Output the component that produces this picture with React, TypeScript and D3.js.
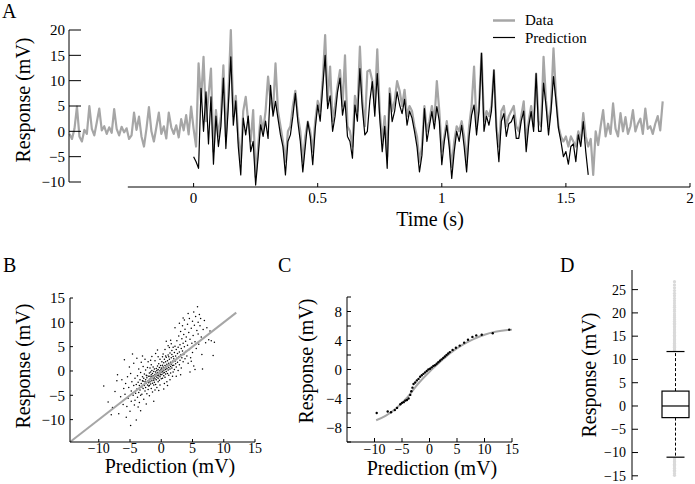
import React from "react";
import * as d3 from "d3";

// ---------- Panel A data (10 ms samples) ----------
const timeStart = -0.5;
const sampleStep = 0.01;
const responseData = [
  -0.5, -1.5, 0.5, 4.9, -1.0, -2.0, 0.3, -0.5, 5.0, 0.5,
  -0.8, 1.8, 4.5, 0.2, 1.0, -0.5, 0.8, -0.3, 4.4, 0.5,
  -0.8, 0.9, -0.2, 0.6, -1.5, -0.8, 3.7, 0.3, 2.9, -1.0,
  -3.0, 0.5, 4.8, 0.0, -2.0, 0.8, 3.7, -0.5, 1.0, -1.4,
  3.7, 0.8, -0.5, 1.2, -1.2, 2.4, 0.2, 3.2, -0.6, 4.9,
  0.5, -3, 13.4, 6, 14.7, 2, 7, 12.4, -4, 4.2,
  -1, 3, 13, -1, 7, 20, 3, 7, -1, -6,
  4, 6.8, 2, -2, 4.2, -9, -3, 3, 0, 4,
  10.8, 6, 4, 13.4, 4, 1, -2, -6, 0, 1,
  5, 8, 3, 0, -6, -1, 1.9, 0, -4, 2,
  6, 4, 10, 19, 6, 12.8, 2, 5, 9, 12.1,
  5, 15, 1, 0, -3, 7, 4, 16.7, 6, 1,
  11.8, 12.1, 10, 5, 16.2, 4, -2, 3, -5, 8.5,
  4, 6, 9.9, 8, 5, 8.2, 3, 5, 4, 1,
  -1, -6, -3, 5, 0, 2, 5, 2, 9.9, 4,
  -4, -1, 2, -2, -7, -2, 1, 0, 2, -1,
  -6, 1, 5, 12.8, 1, 5, 15.4, 2, 4, 3,
  5, 12.1, 1, -3, 4, 5, 1, 3, 4, 5,
  1, 0, 3, 5.9, -2, 2, 5, 1, 11.4, 2,
  1, 14.7, 6, 1, 5, 16.4, 7, 1, -1, -2,
  -1, -3, -1, -2, -3, 0, -2, 3.6, -1, -3,
  -1.5, -8.6, 0, -2.7, 1, 4.2, -1, 1.5, -0.5, 5.5,
  0.5, -1, 3.6, 0, 2.8, -0.5, 1, 4.2, 0, 1.5,
  2.5, -0.5, 4.5, 0.5, 1, -0.5, 1.5, 3, 0.2, 5.9,
];
const predictionStart = 0;
const predictionData = [
  -5, -6, -7.3, 8.5, 0, 7.8, -2.5, 6.8, -6.5, 3,
  -3, 1, 10.5, -3.4, 5, 14.7, 1.2, 6, -3, -8.6,
  2.6, -0.7, 3, -4, -2, -10.6, -5, 1.3, -1, 2,
  -1.4, 9.1, 3, 5.9, 2.5, -0.7, -3, -8.6, -2, -0.7,
  3, 7.5, 1.9, -2, -8, -3, 1.9, -1, -6.6, 0.5,
  5.2, 2, 8.5, 15, 4.5, 7, 0, 3, 7.8, 10.5,
  3.2, 6, -1, -2, -5.3, 5.2, 2, 12.4, 4.5, -0.7,
  0, 6, 9.8, 3, 11.4, 2.6, -4, 1, -7.3, 7.5,
  1.9, 4, 7.8, 5.2, 3.5, 6.3, 1.2, 4, 2.6, 0,
  -3, -8, -4.7, 4.5, -2, 1, 3.9, 0.5, 4.9, 2,
  -6.6, -2, 1.2, -3, -9.3, -4, 0, -2, 1.2, -3,
  -8, -1, 3.2, 5.2, -0.7, 4, 15.4, 0, 3, 1.2,
  4, 12.1, 0, -6, 2, 3.5, -1, 1.5, 1.9, 3.2,
  -1.4, -1.4, 2, 4, -4, 1, 3.9, 0, 11.4, 0,
  0, 9.5, 5, -0.7, 4, 10.8, 6, 0.6, -2, -5,
  -4, -6.5, -3, -2.5, -6, -0.7, -3, 1.9, -4, -8.6,
];
const timeTicks = [0, 0.5, 1, 1.5, 2];
const responseTicksA = [-10, -5, 0, 5, 10, 15, 20];
const legendLabels = ["Data", "Prediction"];

// ---------- Panel B data ----------
const scatterPoints: [number, number][] = [
  [-9.2, -3.1], [-8.5, -6.4], [-7.8, -7.5], [-7.4, -4.2], [-7.1, -2.0], [-6.8, -8.8], [-6.5, -5.3], [-6.3, -1.8], [-6.1, -6.9], [-6.0, -3.6], [-8.0, -9.0], [-7.0, -0.8],
  [-5.8, -4.8], [-5.7, -2.6], [-5.5, -7.3], [-5.4, -1.2], [-5.3, -5.6], [-5.2, -3.4], [-5.0, -8.3], [-4.9, -0.5], [-4.8, -4.1], [-4.8, -6.2], [-4.7, -2.2], [-4.6, 3.5], [-4.5, -5.0], [-4.4, -3.0], [-4.3, -7.0], [-4.2, -1.5], [-4.1, -4.6], [-4.0, -10.1], [-4.0, -2.8], [-5.9, 2.3], [-5.1, 0.8], [-4.4, 1.6], [-4.9, -11.2], [-5.6, -9.5], [-4.2, -6.0],
  [-3.9, -3.7], [-3.8, -1.0], [-3.8, -5.4], [-3.7, -2.3], [-3.6, 0.4], [-3.6, -4.4], [-3.5, -3.0], [-3.5, -6.5], [-3.4, -1.8], [-3.4, -3.9], [-3.3, -0.3], [-3.3, -5.0], [-3.2, -2.6], [-3.2, 1.8], [-3.1, -3.3], [-3.1, -4.8], [-3.0, -1.2], [-3.0, -2.0], [-2.9, -3.6], [-2.9, 0.9], [-2.8, -2.9], [-2.8, -5.8], [-2.8, -1.5], [-2.7, -0.6], [-2.7, -3.0], [-2.6, -2.2], [-2.6, -4.1], [-2.5, 0.2], [-2.5, -1.8], [-2.5, -3.4], [-2.4, -2.5], [-2.4, -0.9], [-2.3, -4.7], [-2.3, -1.4], [-2.2, -2.9], [-2.2, 0.7], [-2.1, -2.0], [-2.1, -3.8], [-2.0, -1.1], [-2.0, -2.4], [-3.9, 2.6], [-3.0, 3.1], [-2.6, 2.4], [-3.7, -7.4], [-2.4, -6.8], [-2.1, 1.9], [-3.3, -8.2], [-2.9, -2.1], [-2.3, -1.0], [-2.0, -3.1],
  [-1.9, -1.7], [-1.9, -0.4], [-1.9, -3.0], [-1.8, -2.2], [-1.8, 0.6], [-1.8, -1.1], [-1.7, -2.7], [-1.7, -0.2], [-1.7, -1.5], [-1.6, -3.6], [-1.6, -0.8], [-1.6, 1.3], [-1.5, -2.0], [-1.5, -1.2], [-1.5, 0.1], [-1.4, -2.5], [-1.4, -0.5], [-1.4, -4.3], [-1.3, -1.6], [-1.3, 0.8], [-1.3, -1.0], [-1.2, -2.9], [-1.2, -0.1], [-1.2, -1.9], [-1.1, -1.3], [-1.1, 0.4], [-1.1, -2.3], [-1.0, -0.7], [-1.0, -1.6], [-1.0, 2.1], [-0.9, -0.2], [-0.9, -2.8], [-0.9, -1.1], [-0.8, 0.5], [-0.8, -0.6], [-0.8, -1.8], [-0.7, -1.3], [-0.7, 0.1], [-0.7, -3.4], [-0.6, -0.9], [-0.6, 1.0], [-0.6, -0.3], [-0.5, -1.5], [-0.5, 0.3], [-0.5, -2.2], [-0.4, -0.6], [-0.4, 1.5], [-0.4, -1.0], [-0.3, 0.0], [-0.3, -1.9], [-0.3, 0.7], [-0.2, -0.4], [-0.2, -1.2], [-0.2, 2.4], [-0.1, 0.2], [-0.1, -0.8], [-0.1, 1.1], [0.0, -0.2], [0.0, -1.6], [0.0, 0.6], [-1.5, 3.0], [-0.9, 3.6], [-1.9, -5.1], [-0.4, -4.0], [-1.2, -6.2], [-0.6, 4.3], [-1.7, 2.2], [-0.2, -2.9], [-1.0, -3.9], [-0.5, 2.9],
  [0.1, 0.4], [0.1, -0.7], [0.2, 1.2], [0.2, -0.1], [0.2, -1.5], [0.3, 0.8], [0.3, -0.4], [0.4, 1.7], [0.4, 0.1], [0.4, -1.0], [0.5, 0.6], [0.5, 2.4], [0.5, -0.3], [0.6, 1.1], [0.6, -1.3], [0.7, 0.3], [0.7, 1.9], [0.7, -0.6], [0.8, 0.9], [0.8, 2.8], [0.8, -0.1], [0.9, 1.4], [0.9, 0.5], [1.0, -0.5], [1.0, 2.1], [1.0, 1.0], [1.1, 0.2], [1.1, 3.3], [1.2, 1.6], [1.2, 0.7], [1.2, -0.9], [1.3, 2.4], [1.3, 1.2], [1.4, 0.4], [1.4, 3.7], [1.5, 1.8], [1.5, 0.9], [1.5, -0.4], [1.6, 2.7], [1.6, 1.4], [1.7, 0.6], [1.7, 4.2], [1.8, 2.0], [1.8, 1.1], [1.9, 3.0], [1.9, -0.2], [0.3, 3.5], [0.6, 4.4], [1.1, 5.2], [0.9, -2.2], [1.4, -1.8], [0.2, 2.9], [1.6, 5.6], [1.8, -1.1], [0.5, -2.6], [1.3, 4.8], [0.8, 6.1], [1.9, 4.9], [1.0, -3.0], [0.4, -3.7], [1.7, 3.4], [1.2, 2.9], [0.7, 3.1], [1.5, 6.3], [0.1, 1.9],
  [2.0, 2.5], [2.0, 1.2], [2.1, 3.8], [2.1, 0.3], [2.2, 2.0], [2.2, 5.1], [2.3, 1.5], [2.3, 3.1], [2.4, 4.4], [2.4, 0.8], [2.5, 2.6], [2.5, 6.2], [2.6, 3.6], [2.6, 1.8], [2.7, 4.9], [2.7, 0.1], [2.8, 2.9], [2.8, 7.2], [2.9, 3.9], [2.9, 1.3], [3.0, 5.4], [3.0, 2.2], [3.1, 8.1], [3.1, 3.3], [3.2, 4.6], [3.2, 0.6], [3.3, 6.6], [3.3, 2.7], [3.4, 9.3], [3.4, 4.1], [3.5, 5.7], [3.5, 1.9], [3.6, 7.5], [3.6, 3.4], [3.7, 10.5], [3.7, 5.0], [3.8, 2.5], [3.8, 8.6], [3.9, 6.1], [3.9, 4.0], [2.4, -1.1], [3.1, -0.8], [2.2, 8.9], [3.5, 10.9], [2.9, 9.8],
  [4.0, 7.0], [4.1, 3.1], [4.2, 9.6], [4.2, 5.3], [4.3, 1.6], [4.4, 7.9], [4.5, 4.4], [4.5, 10.8], [4.6, 6.5], [4.7, 2.7], [4.8, 8.8], [4.9, 5.7], [5.0, 10.2], [5.0, 3.8], [5.1, 7.3], [5.2, 1.0], [5.3, 9.4], [5.4, 6.0], [5.5, 11.2], [5.6, 4.6], [5.7, 8.3], [5.8, 13.2], [5.9, 10.0], [6.0, 5.5], [4.6, -0.2], [5.4, 0.3], [4.3, 11.8], [5.2, 12.1], [4.8, 2.0], [5.9, 7.6],
  [6.2, 9.3], [6.3, 10.8], [6.4, 7.0], [6.5, 3.4], [6.7, 8.5], [6.9, 10.4], [7.1, 5.8], [7.3, 8.9], [7.6, 6.4], [8.0, 6.2], [8.3, 3.2], [8.5, 5.9], [6.6, 0.4], [7.8, 8.2], [6.1, 11.6],
];
const identityRange = [-14.6, 12];
const ticksB = [-10, -5, 0, 5, 10, 15];

// ---------- Panel C data ----------
const nonlinCurve: [number, number][] = [
  [-9.7, -7.0], [-8, -6.4], [-6, -5.3], [-4, -3.8], [-2, -1.9], [0, -0.3], [2, 1.1], [4, 2.4], [6, 3.4], [8, 4.2], [10, 4.8], [12, 5.2], [15, 5.5],
];
const binnedPoints: [number, number][] = [
  [-9.6, -6.0], [-7.6, -5.8], [-7.0, -5.9], [-6.3, -5.6], [-5.9, -5.3], [-5.3, -4.8], [-5.0, -4.6], [-4.7, -4.5], [-4.4, -4.3], [-4.1, -4.2], [-3.8, -4.0], [-3.5, -3.5], [-3.3, -3.0], [-3.1, -2.5], [-2.9, -2.0], [-2.6, -1.8], [-2.3, -1.5], [-2.0, -1.3], [-1.7, -1.0], [-1.4, -0.8], [-1.1, -0.6], [-0.8, -0.4], [-0.5, -0.2], [-0.2, 0.0], [0.1, 0.1], [0.4, 0.3], [0.7, 0.5], [1.0, 0.6], [1.3, 0.8], [1.6, 1.0], [1.9, 1.2], [2.2, 1.4], [2.5, 1.6], [2.8, 1.8], [3.1, 2.0], [3.4, 2.2], [3.7, 2.4], [4.2, 2.7], [4.8, 3.0], [5.5, 3.3], [6.3, 3.7], [7.0, 4.1], [7.8, 4.5], [8.5, 4.7], [9.5, 4.8], [11.5, 5.0], [14.5, 5.5],
];
const ticksCX = [-10, -5, 0, 5, 10, 15];
const tickMarksCY = [-10, -8, -6, -4, -2, 0, 2, 4, 6, 8, 10];
const ticksCY = [-8, -4, 0, 4, 8];

// ---------- Panel D data ----------
const boxQuartiles = [-2.5, 0, 3.2];
const boxWhiskers = [-11, 11.7];
const boxOutliers = [
  11.9, 12.1, 12.3, 12.6, 12.8, 13.0, 13.3, 13.5, 13.8, 14.0, 14.3, 14.6, 14.9, 15.2, 15.5, 15.8, 16.1, 16.4, 16.8, 17.1,
  17.5, 17.8, 18.2, 18.6, 19.0, 19.4, 19.8, 20.3, 20.7, 21.2, 21.6, 22.1, 22.6, 23.1, 23.7, 24.2, 24.8, 25.4, 26.0, 26.7,
  -11.3, -11.6, -11.9, -12.2, -12.5, -12.8, -13.1, -13.4, -13.8, -14.1, -14.5, -14.9,
];
const ticksD = [-15, -10, -5, 0, 5, 10, 15, 20, 25];

const FONT = "'Liberation Serif', 'Times New Roman', serif";
const fmt = (d: number) => (d < 0 ? `\u2212${Math.abs(d)}` : `${d}`);
const GREY = "#a6a6a6";

export default function App() {
  // Panel A
  const xA = d3.scaleLinear().domain([-0.5, 2]).range([69.5, 690]);
  const yA = d3.scaleLinear().domain([-10, 20]).range([182, 30]);
  const dataLine = d3
    .line<number>()
    .x((_, i) => xA(timeStart + i * sampleStep))
    .y((d) => yA(d))(responseData) as string;
  const predLine = d3
    .line<number>()
    .x((_, i) => xA(predictionStart + i * sampleStep))
    .y((d) => yA(d))(predictionData) as string;

  // Panel B
  const xB = d3.scaleLinear().domain([-14.6, 15]).range([70, 255]);
  const yB = d3.scaleLinear().domain([-14.6, 15]).range([442, 298]);

  // Panel C
  const xC = d3.scaleLinear().domain([-15, 15]).range([347, 512]);
  const yC = d3.scaleLinear().domain([-10, 10]).range([442, 297]);
  const curveC = d3
    .line<[number, number]>()
    .x((d) => xC(d[0]))
    .y((d) => yC(d[1]))
    .curve(d3.curveMonotoneX)(nonlinCurve) as string;

  // Panel D
  const yD = d3.scaleLinear().domain([-15.9, 29]).range([480, 271]);
  const cxD = 675.5;

  const txt = { fontFamily: FONT, fill: "#000" } as const;

  return (
    <svg
      width={695}
      height={484}
      style={{ position: "absolute", left: 0, top: 0, background: "#fff" }}
    >
      <rect x={0} y={0} width={695} height={484} fill="#fff" />
      {/* ================= Panel A ================= */}
      <text x={2} y={18} fontSize={20} {...txt}>A</text>
      <path d={dataLine} fill="none" stroke={GREY} strokeWidth={2.2} strokeLinejoin="round" />
      <path d={predLine} fill="none" stroke="#000" strokeWidth={1.2} strokeLinejoin="round" />
      {/* y axis */}
      <line x1={69} x2={69} y1={yA(20)} y2={yA(-10)} stroke="#000" strokeWidth={1} />
      {responseTicksA.map((t) => (
        <g key={"ya" + t}>
          <line x1={69} x2={81} y1={yA(t)} y2={yA(t)} stroke="#000" />
          <text x={65} y={yA(t)} dy="0.35em" textAnchor="end" fontSize={15} {...txt}>
            {fmt(t)}
          </text>
        </g>
      ))}
      <text
        transform={`translate(30,${(yA(20) + yA(-10)) / 2 - 6}) rotate(-90)`}
        textAnchor="middle"
        fontSize={20}
        {...txt}
      >
        Response (mV)
      </text>
      {/* x axis */}
      <line x1={xA(-0.265)} x2={xA(2)} y1={187} y2={187} stroke="#000" />
      {timeTicks.map((t) => (
        <g key={"xa" + t}>
          <line x1={xA(t)} x2={xA(t)} y1={187} y2={183} stroke="#000" />
          <text x={xA(t)} y={203} textAnchor="middle" fontSize={15} {...txt}>
            {t}
          </text>
        </g>
      ))}
      <text x={430} y={226} textAnchor="middle" fontSize={20} {...txt}>
        Time (s)
      </text>
      {/* legend */}
      <line x1={493} x2={515} y1={20.5} y2={20.5} stroke={GREY} strokeWidth={2.5} />
      <text x={525} y={25} fontSize={15} {...txt}>{legendLabels[0]}</text>
      <line x1={493} x2={515} y1={37.5} y2={37.5} stroke="#000" strokeWidth={1.2} />
      <text x={525} y={43} fontSize={15} {...txt}>{legendLabels[1]}</text>

      {/* ================= Panel B ================= */}
      <text x={3} y={272} fontSize={20} {...txt}>B</text>
      {scatterPoints.map((p, i) => (
        <circle key={"s" + i} cx={xB(p[0])} cy={yB(p[1])} r={0.75} fill="#000" />
      ))}
      <line
        x1={xB(identityRange[0])}
        y1={yB(identityRange[0])}
        x2={xB(identityRange[1])}
        y2={yB(identityRange[1])}
        stroke={GREY}
        strokeWidth={2}
      />
      <line x1={70} x2={70} y1={298} y2={442} stroke="#000" />
      <line x1={70} x2={255} y1={442} y2={442} stroke="#000" />
      {ticksB.map((t) => (
        <g key={"b" + t}>
          <line x1={70} x2={73} y1={yB(t)} y2={yB(t)} stroke="#000" />
          <text x={65} y={yB(t)} dy="0.35em" textAnchor="end" fontSize={15} {...txt}>
            {fmt(t)}
          </text>
          <line x1={xB(t)} x2={xB(t)} y1={442} y2={439} stroke="#000" />
          <text x={xB(t)} y={453} textAnchor="middle" fontSize={14} {...txt}>
            {fmt(t)}
          </text>
        </g>
      ))}
      <text
        transform={`translate(30,366) rotate(-90)`}
        textAnchor="middle"
        fontSize={20}
        {...txt}
      >
        Response (mV)
      </text>
      <text x={170} y={473} textAnchor="middle" fontSize={20} {...txt}>
        Prediction (mV)
      </text>

      {/* ================= Panel C ================= */}
      <text x={278} y={272} fontSize={20} {...txt}>C</text>
      <path d={curveC} fill="none" stroke={GREY} strokeWidth={2} />
      {binnedPoints.map((p, i) => (
        <circle key={"c" + i} cx={xC(p[0])} cy={yC(p[1])} r={1.2} fill="#000" />
      ))}
      <line x1={347} x2={347} y1={297} y2={442} stroke="#000" />
      <line x1={347} x2={512} y1={442} y2={442} stroke="#000" />
      {tickMarksCY.map((t) => (
        <line key={"cyt" + t} x1={347} x2={351} y1={yC(t)} y2={yC(t)} stroke="#000" />
      ))}
      {ticksCY.map((t) => (
        <text key={"cy" + t} x={342} y={yC(t)} dy="0.35em" textAnchor="end" fontSize={15} {...txt}>
          {fmt(t)}
        </text>
      ))}
      {ticksCX.map((t) => (
        <g key={"cx" + t}>
          <line x1={xC(t)} x2={xC(t)} y1={442} y2={438} stroke="#000" />
          <text x={xC(t)} y={454} textAnchor="middle" fontSize={14} {...txt}>
            {fmt(t)}
          </text>
        </g>
      ))}
      <text
        transform={`translate(313,361) rotate(-90)`}
        textAnchor="middle"
        fontSize={20}
        {...txt}
      >
        Response (mV)
      </text>
      <text x={432} y={475} textAnchor="middle" fontSize={20} {...txt}>
        Prediction (mV)
      </text>

      {/* ================= Panel D ================= */}
      <text x={560} y={272} fontSize={20} {...txt}>D</text>
      {boxOutliers.map((v, i) => (
        <circle key={"o" + i} cx={cxD - 1} cy={yD(v)} r={1.6} fill="#d9d9d9" />
      ))}
      <line x1={cxD} x2={cxD} y1={yD(boxQuartiles[2])} y2={yD(boxWhiskers[1])} stroke="#000" strokeDasharray="3,2" />
      <line x1={cxD} x2={cxD} y1={yD(boxQuartiles[0])} y2={yD(boxWhiskers[0])} stroke="#000" strokeDasharray="3,2" />
      <line x1={cxD - 9} x2={cxD + 9} y1={yD(boxWhiskers[1])} y2={yD(boxWhiskers[1])} stroke="#000" strokeWidth={1.2} />
      <line x1={cxD - 9} x2={cxD + 9} y1={yD(boxWhiskers[0])} y2={yD(boxWhiskers[0])} stroke="#000" strokeWidth={1.2} />
      <rect
        x={cxD - 13.5}
        y={yD(boxQuartiles[2])}
        width={27}
        height={yD(boxQuartiles[0]) - yD(boxQuartiles[2])}
        fill="#fff"
        stroke="#000"
        strokeWidth={1.2}
      />
      <line x1={cxD - 13.5} x2={cxD + 13.5} y1={yD(boxQuartiles[1])} y2={yD(boxQuartiles[1])} stroke="#000" strokeWidth={1.2} />
      <line x1={632} x2={632} y1={270} y2={480} stroke="#000" />
      {ticksD.map((t) => (
        <g key={"d" + t}>
          <line x1={632} x2={638} y1={yD(t)} y2={yD(t)} stroke="#000" />
          <text x={626} y={yD(t)} dy="0.35em" textAnchor="end" fontSize={14} {...txt}>
            {fmt(t)}
          </text>
        </g>
      ))}
      <text
        transform={`translate(596,375) rotate(-90)`}
        textAnchor="middle"
        fontSize={20}
        {...txt}
      >
        Response (mV)
      </text>
    </svg>
  );
}
